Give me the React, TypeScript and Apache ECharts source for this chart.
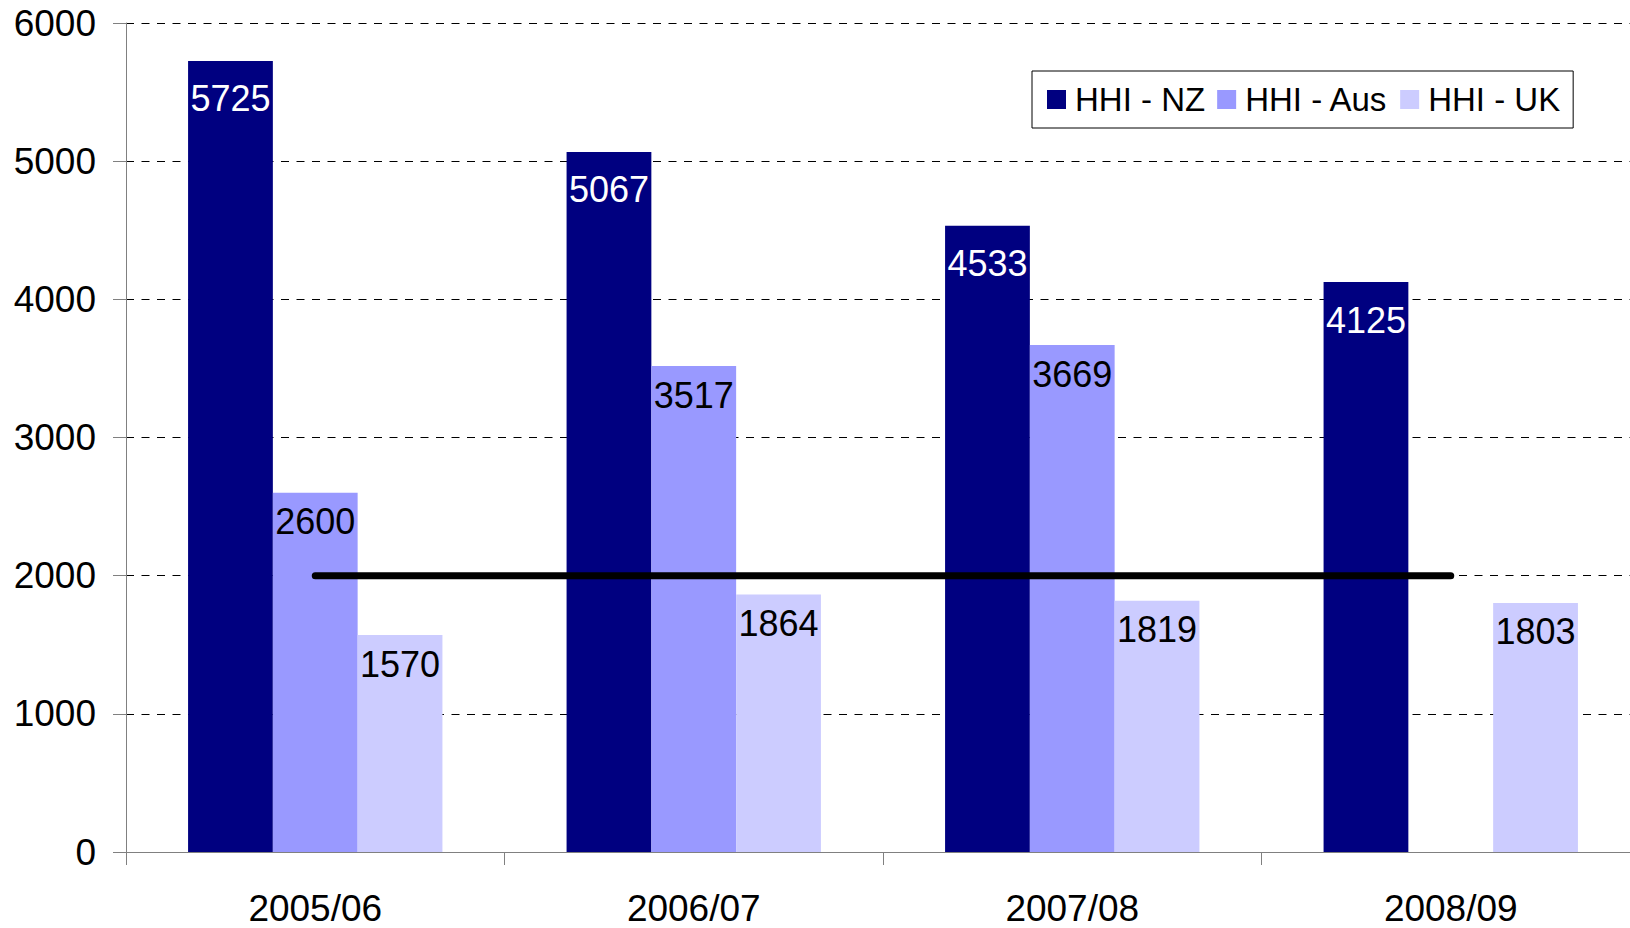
import React, { useEffect, useRef } from "react";
import * as echarts from "echarts";

const categories = ["2005/06", "2006/07", "2007/08", "2008/09"];
const hhiNZ = [5725, 5067, 4533, 4125];
const hhiAus: (number | null)[] = [2600, 3517, 3669, null];
const hhiUK = [1570, 1864, 1819, 1803];
const threshold = [2000, 2000, 2000, 2000];
const yTicks = { min: 0, max: 6000, interval: 1000 };

const FONT = "'Liberation Sans', Arial, sans-serif";

export default function App() {
  const ref = useRef<HTMLDivElement>(null);
  useEffect(() => {
    if (!ref.current) return;
    const chart = echarts.init(ref.current, undefined, { renderer: "svg" });
    const label = (color: string, distance: number) => ({
      show: true,
      position: "insideTop",
      distance,
      color,
      fontSize: 36,
      fontFamily: FONT,
    });
    chart.setOption({
      animation: false,
      backgroundColor: "#fff",
      textStyle: { fontFamily: FONT },
      grid: {
        left: 126,
        top: 23,
        bottom: 76,
        width: 1514,
        containLabel: false,
        outerBoundsMode: "none",
      },
      legend: {
        left: 1032,
        top: 71,
        padding: [12, 13, 12, 15],
        borderColor: "#000",
        borderWidth: 1,
        itemWidth: 19,
        itemHeight: 19,
        itemGap: 12,
        icon: "rect",
        textStyle: { fontSize: 33, fontFamily: FONT, color: "#000", padding: [0, 0, 0, 4] },
        data: ["HHI - NZ", "HHI - Aus", "HHI - UK"],
      },
      xAxis: {
        type: "category",
        data: categories,
        axisLine: { lineStyle: { color: "#808080", width: 1 } },
        axisTick: { show: true, length: 13, lineStyle: { color: "#808080" } },
        axisLabel: { fontSize: 37, color: "#000", margin: 38, fontFamily: FONT },
      },
      yAxis: {
        type: "value",
        min: yTicks.min,
        max: yTicks.max,
        interval: yTicks.interval,
        axisLine: { show: true, lineStyle: { color: "#808080", width: 1 } },
        axisTick: { show: true, length: 13, lineStyle: { color: "#808080" } },
        axisLabel: {
          fontSize: 37,
          color: "#000",
          margin: 30,
          fontFamily: FONT,
          formatter: (v: number) => String(v),
        },
        splitLine: { show: true, lineStyle: { color: "#000", width: 1, type: [8, 7.5] } },
      },
      series: [
        {
          name: "HHI - NZ",
          type: "bar",
          data: hhiNZ,
          barWidth: "22.4%",
          barGap: "0%",
          itemStyle: { color: "#000080" },
          label: label("#fff", 20),
        },
        {
          name: "HHI - Aus",
          type: "bar",
          data: hhiAus,
          barWidth: "22.4%",
          barGap: "0%",
          itemStyle: { color: "#9999FF" },
          label: label("#000", 11),
        },
        {
          name: "HHI - UK",
          type: "bar",
          data: hhiUK,
          barWidth: "22.4%",
          barGap: "0%",
          itemStyle: { color: "#CCCCFF" },
          label: label("#000", 11),
        },
        {
          name: "threshold",
          type: "line",
          data: threshold,
          symbol: "none",
          z: 5,
          lineStyle: { color: "#000", width: 7, cap: "round" },
        },
      ],
    });
    return () => chart.dispose();
  }, []);
  return (
    <div
      ref={ref}
      style={{ position: "fixed", left: 0, top: 0, width: 1630, height: 928, background: "#fff" }}
    />
  );
}
